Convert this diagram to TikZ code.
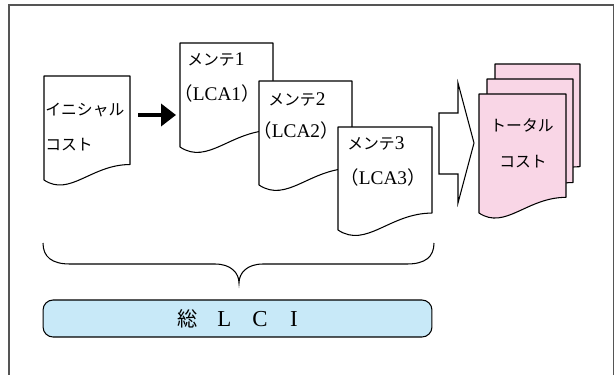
\documentclass[tikz,border=0pt]{standalone}
\usepackage{fontspec}
\setmainfont{Liberation Serif}
\newfontfamily\jp{Noto Sans CJK JP}
\usetikzlibrary{arrows.meta}

\definecolor{pinkfill}{RGB}{249,214,230}
\definecolor{bluefill}{RGB}{200,233,248}
\definecolor{framegray}{RGB}{85,85,85}

\tikzset{
  sheet/.style={draw, fill=white, line width=0.6pt, line join=round},
  pinksheet/.style={sheet, fill=pinkfill},
  lbl/.style={anchor=west, inner sep=0pt, font=\fontsize{9}{11}\selectfont},
  clbl/.style={inner sep=0pt, font=\fontsize{9}{11}\selectfont},
}
% sheet with a wavy lower edge: left, top, right, lower-left y
\newcommand{\sheetpath}[4]{(#1,#2) -- (#3,#2) -- (#3,{#4-0.18*(#3-#1)})
  .. controls ({#1+0.55*(#3-#1)},{#4-0.18*(#3-#1)}) and ({#1+0.3*(#3-#1)},{#4+0.2*(#3-#1)}) .. (#1,#4) -- cycle}
\newcommand{\lat}[1]{{\fontsize{11}{11}\selectfont #1}}
\newcommand{\lca}[1]{{\jp\fontsize{10.5}{11}\selectfont （}\lat{LCA#1}{\jp\fontsize{10.5}{11}\selectfont ）}}

\begin{document}
\begin{tikzpicture}[x=0.02cm,y=-0.02cm]
    \useasboundingbox (0,0) rectangle (615,375);
    \clip (0,0) rectangle (615,375);
    \draw[framegray, line width=0.9pt](9,390)--(9,5)--(613.5,5)--(613.5,390);

    % initial cost
    \draw[sheet] \sheetpath{44}{76}{130}{180};
    \node[lbl] (ini1) at (45,110) {\jp イニシャル};
    \node[lbl] (ini2) at (45,145) {\jp コスト};

    % maintenance sheets
    \draw[sheet] \sheetpath{180}{43}{273}{147};
    \node[lbl] (m1) at (187,60) {{\jp メンテ}\lat{1}};
    \node[lbl] (l1) at (174,93) {\lca{1}};
    \draw[sheet] \sheetpath{259}{81}{352}{185};
    \node[lbl] (m2) at (268,99) {{\jp メンテ}\lat{2}};
    \node[lbl] (l2) at (253,130) {\lca{2}};
    \draw[sheet] \sheetpath{338}{127}{432}{230};
    \node[lbl] (m3) at (347,143) {{\jp メンテ}\lat{3}};
    \node[lbl] (l3) at (340,177) {\lca{3}};

    \coordinate (a1) at (138,115);
    \coordinate (a2) at (176,115);
    \draw[line width=2.6pt, -{Triangle[length=0.3cm,width=0.44cm]}](a1)--(a2);

    % hollow arrow
    \draw[line width=0.6pt, line join=miter, fill=white](439,113)--(458,113)--(458,83)--(474,143)--(458,203)--(458,174)--(439,174)--cycle;

    % total cost
    \draw[pinksheet] \sheetpath{495}{64}{580}{182};
    \draw[pinksheet] \sheetpath{487}{79}{573}{198};
    \draw[pinksheet] \sheetpath{479}{94}{566}{213};
    \node[clbl] (t1) at (522,125) {\jp トータル};
    \node[clbl] (t2) at (523,162) {\jp コスト};

    % brace
    \draw[line width=0.6pt](43,243) .. controls (43,257) and (52,264) .. (70,264) -- (215,264)
        .. controls (231,264) and (239,273) .. (239,283)
        .. controls (239,273) and (247,264) .. (263,264) -- (407,264)
        .. controls (425,264) and (434,257) .. (434,243);

    \node[draw, line width=0.6pt, fill=bluefill, rounded corners=0.2cm, minimum width=7.78cm, minimum height=0.74cm, inner sep=0pt] (total) at (237.5,318.5)
        {{\jp\fontsize{11.5}{12}\selectfont 総}\hspace{0.4cm}{\fontsize{13}{13}\selectfont L\hspace{0.42cm}C\hspace{0.45cm}I}\hspace{0.22cm}};
\end{tikzpicture}
\end{document}
